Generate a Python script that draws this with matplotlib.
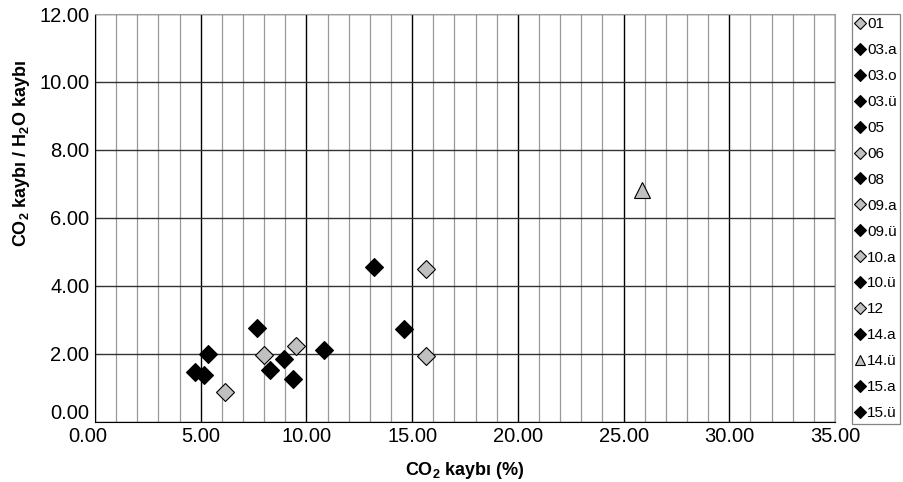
import numpy as np
import matplotlib
matplotlib.use("Agg")
import matplotlib.pyplot as plt
from matplotlib.ticker import MultipleLocator, FormatStrFormatter
from matplotlib.transforms import ScaledTranslation

plt.rcParams['font.family'] = ['Liberation Sans', 'DejaVu Sans']
plt.rcParams['mathtext.fontset'] = 'custom'
plt.rcParams['mathtext.rm'] = 'Liberation Sans'
plt.rcParams['mathtext.bf'] = 'Liberation Sans:bold'

# samples: label, CO2 loss (%), CO2/H2O ratio, style
labels = ["01", "03.a", "03.o", "03.ü", "05", "06", "08", "09.a",
          "09.ü", "10.a", "10.ü", "12", "14.a", "14.ü", "15.a", "15.ü"]
co2_loss = [6.15, 4.73, 5.16, 5.36, 7.68, 8.00, 8.28, 9.51,
            8.94, 15.64, 9.38, 15.66, 10.83, 25.89, 13.20, 14.62]
ratio = [0.88, 1.45, 1.36, 1.98, 2.75, 1.95, 1.52, 2.21,
         1.83, 4.50, 1.25, 1.93, 2.11, 6.83, 4.55, 2.72]
kind = ["grey", "black", "black", "black", "black", "grey", "black", "grey",
        "black", "grey", "black", "grey", "black", "tri", "black", "black"]

styles = {
    "black": dict(marker="D", mfc="black", mec="black", ms=9),
    "grey": dict(marker="D", mfc="#c0c0c0", mec="black", ms=9),
    "tri": dict(marker="^", mfc="#c0c0c0", mec="black", ms=11),
}

fig = plt.figure(figsize=(9.04, 4.82), dpi=100)
ax = fig.add_axes([95 / 904, 1 - 421.5 / 482, 740 / 904, 407.5 / 482])

for lab, x, y, k in zip(labels, co2_loss, ratio, kind):
    ax.plot([x], [y], linestyle="none", label=lab, mew=0.8, zorder=3, **styles[k])

ax.set_xlim(0, 35)
ax.set_ylim(0, 12)
ax.set_xticks(np.arange(0, 36, 5))
ax.set_yticks(np.arange(0, 13, 2))
ax.xaxis.set_minor_locator(MultipleLocator(1))
ax.xaxis.set_major_formatter(FormatStrFormatter("%.2f"))
ax.yaxis.set_major_formatter(FormatStrFormatter("%.2f"))

ax.grid(which="minor", axis="x", color="#999999", lw=0.9)
ax.grid(which="major", axis="x", color="black", lw=1.0)
ax.grid(which="major", axis="y", color="#333333", lw=1.0)
ax.set_axisbelow(True)

ax.tick_params(which="both", length=0, labelsize=14.5, pad=4)
ax.spines["left"].set_color("black")
ax.spines["bottom"].set_color("black")
ax.spines["top"].set_color("#a0a0a0")
ax.spines["right"].set_color("#a0a0a0")

ax.set_xlabel(r"$\mathbf{CO_2}$ kaybı (%)", fontsize=13, fontweight="bold", labelpad=10)
ax.set_ylabel(r"$\mathbf{CO_2}$ kaybı / $\mathbf{H_2O}$ kaybı", fontsize=13,
              fontweight="bold")
ax.yaxis.set_label_coords(-0.085, 0.659)

# nudge the two corner "0.00" labels apart, as in the original
fig.canvas.draw()
xl0 = ax.get_xticklabels()[0]
xl0.set_transform(xl0.get_transform() + ScaledTranslation(-5 / 72, 0, fig.dpi_scale_trans))
yl0 = ax.get_yticklabels()[0]
yl0.set_transform(yl0.get_transform() + ScaledTranslation(0, 7 / 72, fig.dpi_scale_trans))

leg = fig.legend(loc="upper left", bbox_to_anchor=(852.5 / 904, 1 - 13.5 / 482),
                 fontsize=11, markerscale=0.65, handlelength=0.5, handletextpad=0.2,
                 labelspacing=0.78, borderaxespad=0, borderpad=0.25,
                 frameon=True, fancybox=False, edgecolor="#666666")
leg.get_frame().set_linewidth(0.9)

fig.savefig("out.png", dpi=100)
